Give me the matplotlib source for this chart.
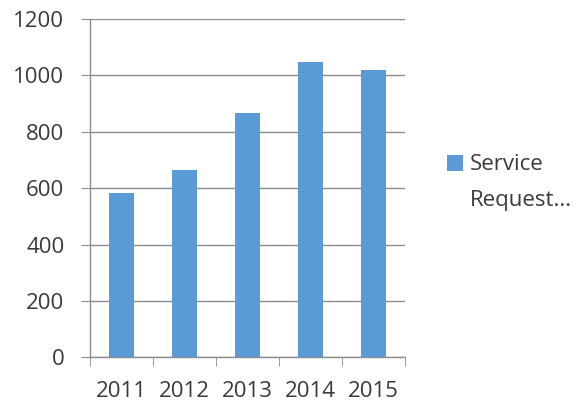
import numpy as np
import matplotlib
matplotlib.use("Agg")
import matplotlib.pyplot as plt

years = ["2011", "2012", "2013", "2014", "2015"]
requests = [584, 665, 865, 1047, 1020]
series_label = ["Service", "Request..."]

plt.rcParams["font.family"] = ["Open Sans", "DejaVu Sans"]
TXT = "#3a3a3a"
GRID = "#8c8c8c"

fig = plt.figure(figsize=(5.79, 4.08), dpi=100)
ax = fig.add_axes([90 / 579, 1 - 357.3 / 408, 315 / 579, 338.3 / 408])

x = np.arange(len(years))
ax.bar(x, requests, width=0.4, color="#5b9bd5", label=series_label[0], zorder=3)

ax.set_xlim(-0.5, len(years) - 0.5)
ax.set_ylim(0, 1200)
ax.set_yticks(np.arange(0, 1201, 200))
ax.set_xticks(x)
ax.set_xticklabels(years)
ax.set_xticks(np.arange(-0.5, len(years), 1), minor=True)

ax.yaxis.grid(True, color=GRID, lw=1.0, zorder=0)
for s in ["top", "right"]:
    ax.spines[s].set_visible(False)
for s in ["left", "bottom"]:
    ax.spines[s].set_color(GRID)
    ax.spines[s].set_linewidth(1.0)

ax.tick_params(axis="y", length=6.5, color=GRID, pad=12, labelsize=16,
               labelcolor=TXT)
ax.tick_params(axis="x", which="major", length=0, pad=17, labelsize=16,
               labelcolor=TXT)
ax.tick_params(axis="x", which="minor", length=6.5, color=GRID)

# legend: label wraps onto a second line, handle sits beside the first line
leg = fig.legend(loc="center left", bbox_to_anchor=(447 / 579, 1 - 165 / 408),
                 frameon=False, fontsize=16, handlelength=0.72, handleheight=0.7,
                 handletextpad=0.32, borderpad=0, borderaxespad=0,
                 labelcolor=TXT)
fig.text(470 / 579, 1 - 206 / 408, series_label[1], fontsize=16, color=TXT,
         va="baseline", ha="left")

fig.savefig("out.png", dpi=100)
